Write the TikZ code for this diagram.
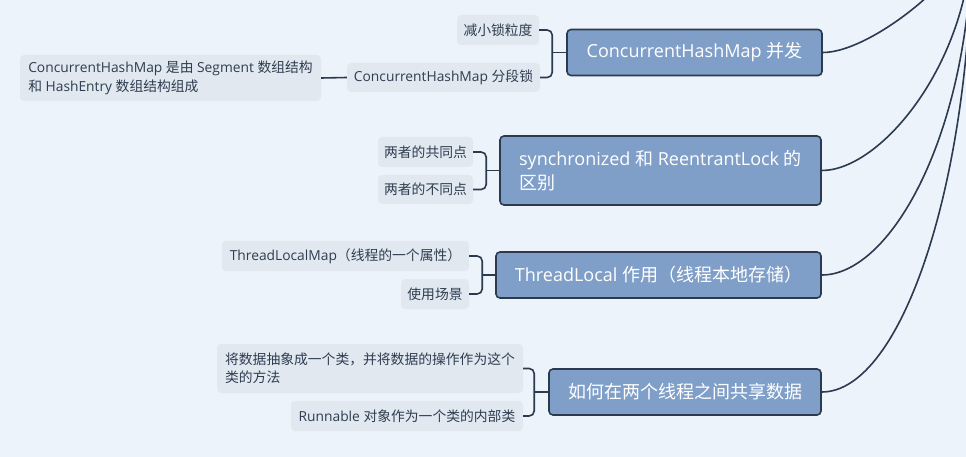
\documentclass[tikz,border=0pt]{standalone}
\usepackage{fontspec}
\setmainfont{Open Sans}
\newfontfamily\cjk{Noto Sans CJK SC}
\newcommand\zh[1]{{\cjk #1}}
\usetikzlibrary{positioning}

\definecolor{bgblue}{HTML}{EDF3FA}
\definecolor{mainfill}{HTML}{7F9FC9}
\definecolor{linedark}{HTML}{2B3A4F}
\definecolor{subfill}{HTML}{E1E8F0}
\definecolor{subtext}{HTML}{2E3D50}

\tikzset{
  mainbox/.style={rectangle, draw=linedark, fill=mainfill, line width=1.6pt, rounded corners=4pt, text=white, font=\fontsize{18}{24}\selectfont, inner sep=0pt, minimum height=46pt},
  subbox/.style={rectangle, fill=subfill, rounded corners=4pt, text=subtext, font=\fontsize{13.8}{19}\selectfont, inner sep=0pt, minimum height=30pt},
  link/.style={draw=linedark, line width=1.6pt, rounded corners=5pt},
  branch/.style={draw=linedark, line width=1.6pt}
}

\begin{document}
\begin{tikzpicture}[x=1pt, y=-1pt]
\useasboundingbox (0,0) rectangle (966,457);
\fill[bgblue] (0,0) rectangle (966,457);

% main topics
\node[mainbox, minimum width=255pt] (cmap) at (694.5,52.5) {ConcurrentHashMap \zh{并发}};
\node[mainbox, minimum width=321pt, minimum height=69pt, align=left] (sync) at (660.5,170.5) {synchronized \zh{和} ReentrantLock \zh{的}\\\zh{区别}};
\node[mainbox, minimum width=325pt] (tloc) at (658.5,275) {ThreadLocal \zh{作用（线程本地存储）}};
\node[mainbox, minimum width=272pt] (share) at (685,392) {\zh{如何在两个线程之间共享数据}};

% sub topics
\node[subbox, minimum width=82pt] (grain) at (498,30) {\zh{减小锁粒度}};
\node[subbox, minimum width=193pt, minimum height=29pt] (segm) at (443.5,77.5) {ConcurrentHashMap \zh{分段锁}};
\node[subbox, minimum width=301pt, minimum height=46pt, align=left] (segdet) at (170.5,78) {ConcurrentHashMap \zh{是由} Segment \zh{数组结构}\\\zh{和} HashEntry \zh{数组结构组成}};
\node[subbox, minimum width=95pt] (same) at (425.5,152) {\zh{两者的共同点}};
\node[subbox, minimum width=95pt, minimum height=29pt] (diff) at (425.5,189.5) {\zh{两者的不同点}};
\node[subbox, minimum width=247pt] (tmap) at (345.5,256) {ThreadLocalMap\zh{（线程的一个属性）}};
\node[subbox, minimum width=68pt] (usage) at (435,294) {\zh{使用场景}};
\node[subbox, minimum width=306pt, minimum height=49pt, align=left, font=\fontsize{13.8}{18.3}\selectfont] (absd) at (370,368.5) {\zh{将数据抽象成一个类，并将数据的操作作为这个}\\\zh{类的方法}};
\node[subbox, minimum width=232pt] (inner) at (407,416) {Runnable \zh{对象作为一个类的内部类}};

% brackets
\coordinate[left=14pt of cmap] (j1);
\coordinate[left=13pt of sync] (j2);
\coordinate[left=13pt of tloc] (j3);
\coordinate[left=14pt of share] (j4);
\draw[link] (grain.east) -| (j1) |- (segm.east);
\draw[branch] (j1) -- (cmap.west);
\draw[branch] (segdet.east) -- (segm.west);
\draw[link] (same.east) -| (j2) |- (diff.east);
\draw[branch] (j2) -- (sync.west);
\draw[link] (tmap.east) -| (j3) |- (usage.east);
\draw[branch] (j3) -- (tloc.west);
\draw[link] (absd.east) -| (j4) |- (inner.east);
\draw[branch] (j4) -- (share.west);

% branches to the root off the picture
\begin{scope}
\clip (0,0) rectangle (966,457);
\coordinate (root) at (972,-70);
\draw[branch] (cmap.east) .. controls +(50,0) and +(0,40) .. (root);
\draw[branch] (sync.east) .. controls +(60,0) and +(0,130) .. (root);
\draw[branch] (tloc.east) .. controls +(70,0) and +(0,200) .. (root);
\draw[branch] (share.east) .. controls +(80,0) and +(0,250) .. (root);
\end{scope}

\end{tikzpicture}
\end{document}
